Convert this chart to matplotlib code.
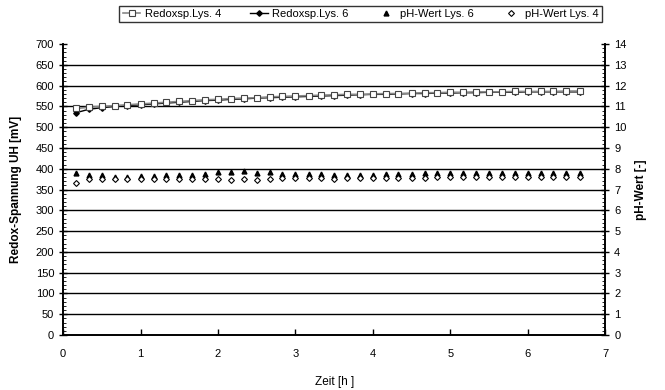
import matplotlib.pyplot as plt
from matplotlib.ticker import MultipleLocator

plt.rcParams['font.family'] = ['Liberation Sans', 'DejaVu Sans']

# time in hours (10 min intervals)
zeit = [0.17, 0.33, 0.50, 0.67, 0.83, 1.00, 1.17, 1.33, 1.50, 1.67,
        1.83, 2.00, 2.17, 2.33, 2.50, 2.67, 2.83, 3.00, 3.17, 3.33,
        3.50, 3.67, 3.83, 4.00, 4.17, 4.33, 4.50, 4.67, 4.83, 5.00,
        5.17, 5.33, 5.50, 5.67, 5.83, 6.00, 6.17, 6.33, 6.50, 6.67]

redox_lys4 = [545, 548, 550, 552, 554, 556, 558, 560, 562, 564,
              566, 567, 569, 570, 571, 573, 574, 575, 576, 577,
              578, 579, 579, 580, 581, 581, 582, 583, 583, 584,
              584, 585, 585, 585, 586, 586, 586, 586, 587, 587]

redox_lys6 = [535, 543, 547, 550, 552, 554, 556, 558, 560, 562,
              564, 565, 567, 568, 570, 571, 572, 573, 574, 575,
              576, 577, 578, 579, 579, 580, 581, 581, 582, 582,
              583, 583, 584, 584, 584, 585, 585, 585, 585, 585]

ph_lys6 = [7.8, 7.7, 7.7, 7.6, 7.6, 7.65, 7.65, 7.7, 7.7, 7.7,
           7.75, 7.85, 7.85, 7.9, 7.8, 7.85, 7.75, 7.75, 7.75, 7.75,
           7.7, 7.7, 7.7, 7.7, 7.75, 7.75, 7.75, 7.8, 7.8, 7.8,
           7.8, 7.8, 7.8, 7.8, 7.8, 7.8, 7.8, 7.8, 7.8, 7.8]

ph_lys4 = [7.3, 7.5, 7.5, 7.5, 7.5, 7.5, 7.5, 7.5, 7.5, 7.5,
           7.5, 7.5, 7.45, 7.5, 7.45, 7.5, 7.55, 7.55, 7.55, 7.55,
           7.5, 7.55, 7.55, 7.55, 7.55, 7.55, 7.55, 7.55, 7.6, 7.6,
           7.6, 7.6, 7.6, 7.6, 7.6, 7.6, 7.6, 7.6, 7.6, 7.6]

fig = plt.figure(figsize=(6.65, 3.9), dpi=100)
ax = fig.add_axes([0.095, 0.141, 0.815, 0.746])
ax2 = ax.twinx()

# horizontal grid lines
for y in range(50, 700, 50):
    ax.axhline(y, color='black', lw=1.0, zorder=0)

l2, = ax.plot(zeit, redox_lys6, color='black', lw=1.0, marker='D', ms=2.8,
              mfc='black', mec='black', label='Redoxsp.Lys. 6', zorder=2)
l1, = ax.plot(zeit, redox_lys4, color='#888888', lw=1.2, marker='s', ms=4,
              mfc='white', mec='#444444', mew=0.8, label='Redoxsp.Lys. 4', zorder=3)
l3, = ax2.plot(zeit, ph_lys6, ls='none', marker='^', ms=3.5, mfc='black',
               mec='black', label='pH-Wert Lys. 6')
l4, = ax2.plot(zeit, ph_lys4, ls='none', marker='D', ms=3, mfc='white',
               mec='black', mew=0.8, label='pH-Wert Lys. 4')

ax.set_xlim(0, 7)
ax.set_ylim(0, 700)
ax2.set_ylim(0, 14)
ax.xaxis.set_major_locator(MultipleLocator(1))
ax.yaxis.set_major_locator(MultipleLocator(50))
ax.yaxis.set_minor_locator(MultipleLocator(10))
ax2.yaxis.set_major_locator(MultipleLocator(1))
ax2.yaxis.set_minor_locator(MultipleLocator(0.2))

ax.tick_params(axis='y', direction='inout', length=6, width=1, labelsize=8)
ax.tick_params(axis='y', which='minor', direction='in', length=2, width=0.6)
ax.tick_params(axis='x', direction='in', length=4, width=1, labelsize=8, pad=10)
ax2.tick_params(axis='y', direction='inout', length=6, width=1, labelsize=8)
ax2.tick_params(axis='y', which='minor', direction='in', length=2, width=0.6)

for a in (ax, ax2):
    a.spines['top'].set_visible(False)
    for s in ('left', 'right', 'bottom'):
        a.spines[s].set_linewidth(1.2)

ax.set_xlabel('Zeit [h ]', fontsize=8.5, labelpad=12)
ax.set_ylabel('Redox-Spannung UH [mV]', fontsize=8.5, fontweight='bold', labelpad=10)
ax2.set_ylabel('pH-Wert [-]', fontsize=8.5, fontweight='bold', rotation=90, labelpad=6)

fig.legend(handles=[l1, l2, l3, l4], loc='upper center', bbox_to_anchor=(0.542, 1.0),
           ncol=4, fontsize=8, frameon=True, fancybox=False, edgecolor='black',
           handlelength=1.6, handletextpad=0.4, columnspacing=2.6,
           borderpad=0.3)

fig.savefig('out.png', dpi=100)
